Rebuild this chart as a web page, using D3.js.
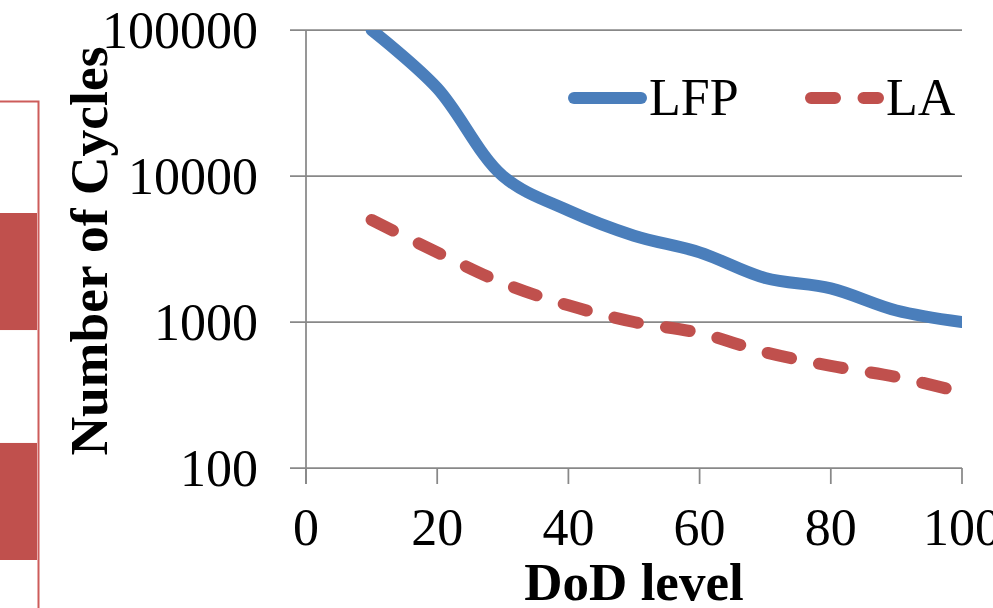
<!DOCTYPE html>
<html>
<head>
<meta charset="utf-8">
<script src="https://cdnjs.cloudflare.com/ajax/libs/d3/7.8.5/d3.min.js"></script>
<style>
  body { margin: 0; background: #fff; }
  svg { display: block; font-family: "Liberation Serif", "Times New Roman", serif; }
</style>
</head>
<body>
<div id="chart"></div>
<script>
// DoD levels (%) and cycle counts
const dod = [10, 20, 30, 40, 50, 60, 70, 80, 90, 100];
const lfpCycles = [100000, 40000, 10000, 5800, 3900, 3000, 2000, 1700, 1200, 1000];
const laCycles = [5000, 3000, 1850, 1300, 1000, 840, 620, 500, 420, 330];
const xTicks = [0, 20, 40, 60, 80, 100];
const yTicks = [100, 1000, 10000, 100000];
const seriesNames = ["LFP", "LA"];
// bars of the neighbouring panel that is cut off on the left
const sideCats = ["b1", "b2"];

const width = 993, height = 608;
const plot = { left: 306, right: 962, top: 30, bottom: 468 };
const tick = 16;

const svg = d3.select("#chart").append("svg")
  .attr("width", width)
  .attr("height", height);

// left neighbour fragment
const sideY = d3.scaleBand().domain(sideCats).range([213, 560]).paddingInner(0.491).paddingOuter(0);
svg.selectAll("rect.side")
  .data(sideCats)
  .enter().append("rect")
  .attr("class", "side")
  .attr("x", -10)
  .attr("y", d => sideY(d))
  .attr("width", 47)
  .attr("height", sideY.bandwidth())
  .attr("fill", "#c0504d");
svg.append("path")
  .attr("d", `M-5,101.5H38.5V${height + 5}`)
  .attr("fill", "none")
  .attr("stroke", "#cd5c5a")
  .attr("stroke-width", 2);

const x = d3.scaleLinear().domain([0, 100]).range([plot.left, plot.right]);
const y = d3.scaleLog().domain([100, 100000]).range([plot.bottom, plot.top]);

// gridlines + y ticks
svg.append("g")
  .selectAll("line")
  .data(yTicks)
  .enter().append("line")
  .attr("x1", plot.left - tick)
  .attr("x2", plot.right)
  .attr("y1", d => y(d))
  .attr("y2", d => y(d))
  .attr("stroke", "#888")
  .attr("stroke-width", 1.75);

// x ticks
svg.append("g")
  .selectAll("line")
  .data(xTicks)
  .enter().append("line")
  .attr("x1", d => x(d))
  .attr("x2", d => x(d))
  .attr("y1", plot.bottom)
  .attr("y2", plot.bottom + tick)
  .attr("stroke", "#888")
  .attr("stroke-width", 1.75);

// y axis line
svg.append("line")
  .attr("x1", plot.left).attr("x2", plot.left)
  .attr("y1", plot.top).attr("y2", plot.bottom + tick)
  .attr("stroke", "#888")
  .attr("stroke-width", 1.75);

// tick labels
svg.append("g")
  .selectAll("text")
  .data(yTicks)
  .enter().append("text")
  .attr("x", 258)
  .attr("y", d => y(d) + 18)
  .attr("text-anchor", "end")
  .attr("font-size", 52)
  .text(d => d);

svg.append("g")
  .selectAll("text")
  .data(xTicks)
  .enter().append("text")
  .attr("x", d => x(d))
  .attr("y", 545)
  .attr("text-anchor", "middle")
  .attr("font-size", 52)
  .text(d => d);

// axis titles
svg.append("text")
  .attr("x", (plot.left + plot.right) / 2)
  .attr("y", 600)
  .attr("text-anchor", "middle")
  .attr("font-size", 53)
  .attr("font-weight", "bold")
  .text("DoD level");

svg.append("text")
  .attr("transform", "translate(107,251) rotate(-90)")
  .attr("text-anchor", "middle")
  .attr("font-size", 53.5)
  .attr("font-weight", "bold")
  .text("Number of Cycles");

// lines
svg.append("clipPath").attr("id", "plot-clip")
  .append("rect")
  .attr("x", plot.left).attr("y", plot.top)
  .attr("width", plot.right - plot.left)
  .attr("height", plot.bottom - plot.top);

const line = d3.line()
  .x(d => x(d[0]))
  .y(d => y(d[1]))
  .curve(d3.curveCatmullRom.alpha(0.5));

const lines = svg.append("g").attr("clip-path", "url(#plot-clip)");

lines.append("path")
  .datum(d3.zip(dod, laCycles))
  .attr("fill", "none")
  .attr("stroke", "#c0504d")
  .attr("stroke-width", 12)
  .attr("stroke-linecap", "round")
  .attr("stroke-dasharray", "24,28.5")
  .attr("d", line);

lines.append("path")
  .datum(d3.zip(dod, lfpCycles))
  .attr("fill", "none")
  .attr("stroke", "#4a7ebb")
  .attr("stroke-width", 12)
  .attr("stroke-linecap", "round")
  .attr("d", line);

// legend
const legend = svg.append("g");
const legendItems = [
  { name: seriesNames[0], x: 574, color: "#4a7ebb", dash: null },
  { name: seriesNames[1], x: 811, color: "#c0504d", dash: "24,28.5" }
];
legendItems.forEach(it => {
  legend.append("line")
    .attr("x1", it.x).attr("x2", it.x + 67)
    .attr("y1", 98).attr("y2", 98)
    .attr("stroke", it.color)
    .attr("stroke-width", 12)
    .attr("stroke-linecap", "round")
    .attr("stroke-dasharray", it.dash);
  legend.append("text")
    .attr("x", it.x + 75)
    .attr("y", 115)
    .attr("font-size", 52)
    .text(it.name);
});
</script>
</body>
</html>
